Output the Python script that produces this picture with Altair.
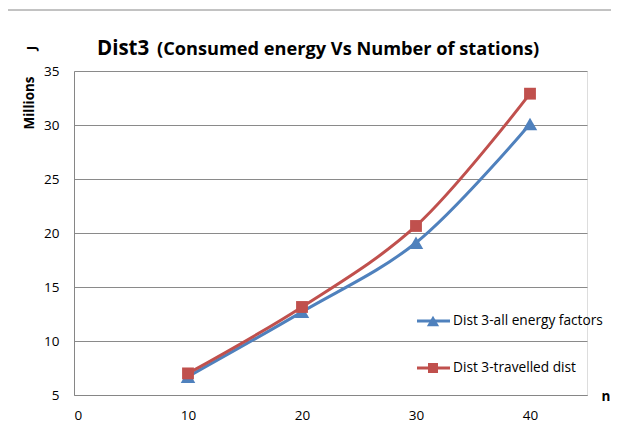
import altair as alt
import pandas as pd

n_values = [10, 20, 30, 40]
all_energy = [6.7, 12.7, 19.1, 30.1]
travelled = [7.0, 13.15, 20.65, 32.9]
series_names = ["Dist 3-all energy factors", "Dist 3-travelled dist"]
series_colors = ["#4F81BD", "#C0504D"]
series_shapes = ["triangle-up", "square"]
x_ticks = [0, 10, 20, 30, 40]
y_ticks = [5, 10, 15, 20, 25, 30, 35]

FONT = "Open Sans"

rows = []
for i, n in enumerate(n_values):
    rows.append({"n": n, "J": all_energy[i], "series": series_names[0]})
    rows.append({"n": n, "J": travelled[i], "series": series_names[1]})
df = pd.DataFrame(rows)

W, H = 513, 324

x = alt.X("n:Q", scale=alt.Scale(domain=[0, 45], nice=False),
          axis=alt.Axis(values=x_ticks, title=None, grid=False, ticks=False,
                        domainColor="#868686", labelFontSize=13.5, labelColor="#000",
                        labelPadding=13, labelFont=FONT))
y = alt.Y("J:Q", scale=alt.Scale(domain=[5, 35], nice=False),
          axis=alt.Axis(values=y_ticks, title=None, grid=True, gridColor="#8a8a8a",
                        ticks=False, domainColor="#868686", labelFontSize=13.5,
                        labelColor="#000", labelPadding=15, labelFont=FONT))
color = alt.Color("series:N", scale=alt.Scale(domain=series_names, range=series_colors), legend=None)
shape = alt.Shape("series:N", scale=alt.Scale(domain=series_names, range=series_shapes), legend=None)
size = alt.Size("series:N", scale=alt.Scale(domain=series_names, range=[210, 140]), legend=None)

lines = alt.Chart(df).mark_line(strokeWidth=3, interpolate="catmull-rom").encode(
    x=x, y=y, color=color, detail="series:N")
points = alt.Chart(df).mark_point(filled=True, opacity=1).encode(
    x=x, y=y, color=color, shape=shape, size=size)

# outer chart border
border = alt.Chart(pd.DataFrame({"a": [0]})).mark_rect(
    fill=None, stroke="#868686", strokeWidth=1).encode(
    x=alt.value(-70), x2=alt.value(W + 60), y=alt.value(-61), y2=alt.value(H + 60))

# titles
t1 = alt.Chart(pd.DataFrame({"t": ["Dist3"]})).mark_text(
    font=FONT, fontSize=20.5, fontWeight="bold", align="left", baseline="alphabetic").encode(
    text="t:N", x=alt.value(23), y=alt.value(-16))
t2 = alt.Chart(pd.DataFrame({"t": ["(Consumed energy Vs Number of stations)"]})).mark_text(
    font=FONT, fontSize=18.2, fontWeight="bold", align="left", baseline="alphabetic").encode(
    text="t:N", x=alt.value(83), y=alt.value(-16))
ylab = alt.Chart(pd.DataFrame({"t": ["Millions"]})).mark_text(
    font=FONT, fontSize=13.5, fontWeight="bold", angle=270, align="center", baseline="middle").encode(
    text="t:N", x=alt.value(-44), y=alt.value(32))
junit = alt.Chart(pd.DataFrame({"t": ["J"]})).mark_text(
    font=FONT, fontSize=13, fontWeight="bold", angle=270, align="center", baseline="middle").encode(
    text="t:N", x=alt.value(-42), y=alt.value(-23))
nlab = alt.Chart(pd.DataFrame({"t": ["n"]})).mark_text(
    font=FONT, fontSize=13.5, fontWeight="bold", align="center", baseline="middle").encode(
    text="t:N", x=alt.value(532), y=alt.value(326))

# manual legend
leg_y = [250, 297]
leg_sizes = [150, 100]
leg_layers = []
for i, name in enumerate(series_names):
    d = pd.DataFrame({"t": [name]})
    leg_layers.append(alt.Chart(d).mark_rule(color=series_colors[i], strokeWidth=3).encode(
        x=alt.value(343), x2=alt.value(376), y=alt.value(leg_y[i])))
    leg_layers.append(alt.Chart(d).mark_point(filled=True, opacity=1, size=leg_sizes[i],
                                              color=series_colors[i], shape=series_shapes[i]).encode(
        x=alt.value(359), y=alt.value(leg_y[i])))
    leg_layers.append(alt.Chart(d).mark_text(font=FONT, fontSize=13.7, align="left",
                                             baseline="middle", color="#000").encode(
        text="t:N", x=alt.value(379), y=alt.value(leg_y[i])))

chart = alt.layer(border, lines, points, t1, t2, ylab, junit, nlab, *leg_layers).properties(
    width=W, height=H,
    autosize=alt.AutoSizeParams(type="none"),
    padding={"left": 66, "top": 63, "right": 24, "bottom": 30},
).configure_view(stroke=None).configure(background="white")

chart.save("out.html", embed_options={"renderer": "svg", "actions": False})
